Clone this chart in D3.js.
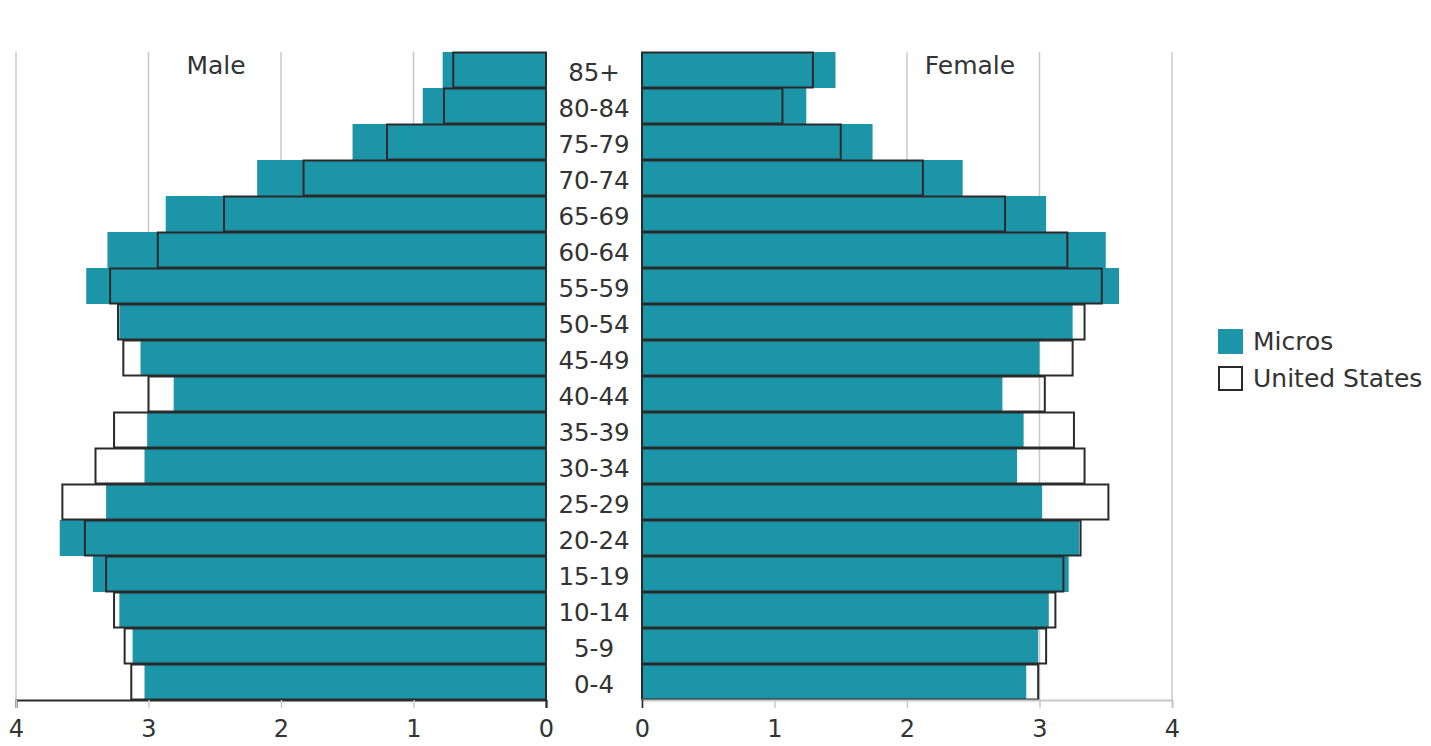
<!DOCTYPE html>
<html>
<head>
<meta charset="utf-8">
<script src="https://cdn.jsdelivr.net/npm/d3@7"></script>
<style>
  body { margin: 0; background: #fff; }
  text { font-family: "DejaVu Sans", sans-serif; fill: #333; }
</style>
</head>
<body>
<div id="pyramid"></div>
<script>
// Population pyramid, Micros vs United States (percent of population)

const ageGroups = ["85+", "80-84", "75-79", "70-74", "65-69", "60-64", "55-59", "50-54", "45-49",
  "40-44", "35-39", "30-34", "25-29", "20-24", "15-19", "10-14", "5-9", "0-4"];

const maleMicros = [0.78, 0.93, 1.46, 2.18, 2.87, 3.31, 3.47, 3.22, 3.06, 2.81, 3.01, 3.03, 3.32, 3.67, 3.42, 3.22, 3.12, 3.03];
const maleUS = [0.70, 0.77, 1.20, 1.83, 2.43, 2.93, 3.29, 3.23, 3.19, 3.00, 3.26, 3.40, 3.65, 3.48, 3.32, 3.26, 3.18, 3.13];

const femaleMicros = [1.46, 1.24, 1.74, 2.42, 3.05, 3.50, 3.60, 3.25, 3.00, 2.72, 2.88, 2.83, 3.02, 3.30, 3.22, 3.07, 2.99, 2.90];
const femaleUS = [1.29, 1.06, 1.50, 2.12, 2.74, 3.21, 3.47, 3.34, 3.25, 3.04, 3.26, 3.34, 3.52, 3.31, 3.18, 3.12, 3.05, 2.99];

const xTicks = [0, 1, 2, 3, 4];
const legendNames = ["Micros", "United States"];

const [w, h] = [1431, 746];
const [plotTop, plotBottom] = [52, 700];
const teal = "#1b95a7";
const outline = "#2a2a2a";
const gridColor = "#c8c8c8";

const svg = d3.select("#pyramid").append("svg")
  .attr("width", w)
  .attr("height", h);

const yScale = d3.scaleBand().domain(ageGroups).range([plotTop, plotBottom]).padding(0);

const xLeft = d3.scaleLinear().domain([0, 4]).range([546, 16]);
const xRight = d3.scaleLinear().domain([0, 4]).range([642, 1172]);

const sides = [
  {scale: xLeft, micros: maleMicros, us: maleUS, title: "Male", titleX: 216, axisColor: outline},
  {scale: xRight, micros: femaleMicros, us: femaleUS, title: "Female", titleX: 970, axisColor: gridColor}
];

sides.forEach(side => {
  const x = side.scale;

  // grid lines
  svg.append("g").selectAll("line")
    .data(xTicks.filter(t => t > 0))
    .enter().append("line")
    .attr("x1", d => x(d)).attr("x2", d => x(d))
    .attr("y1", plotTop).attr("y2", plotBottom)
    .attr("stroke", gridColor)
    .attr("stroke-width", 1.5);

  svg.append("text")
    .attr("x", side.titleX)
    .attr("y", 74)
    .attr("text-anchor", "middle")
    .style("font-size", "25px")
    .text(side.title);

  // Micros bars
  svg.append("g").selectAll("rect")
    .data(ageGroups)
    .enter().append("rect")
    .attr("x", (d, i) => Math.min(x(0), x(side.micros[i])))
    .attr("y", d => yScale(d))
    .attr("width", (d, i) => Math.abs(x(side.micros[i]) - x(0)))
    .attr("height", yScale.bandwidth())
    .attr("fill", teal);

  // United States outlines
  svg.append("g").selectAll("rect")
    .data(ageGroups)
    .enter().append("rect")
    .attr("x", (d, i) => Math.min(x(0), x(side.us[i])))
    .attr("y", d => yScale(d) + 0.5)
    .attr("width", (d, i) => Math.abs(x(side.us[i]) - x(0)))
    .attr("height", yScale.bandwidth() - 1)
    .attr("fill", "none")
    .attr("stroke", outline)
    .attr("stroke-width", 2);

  const axis = d3.axisBottom(x).tickValues(xTicks).tickSize(8).tickPadding(12).tickFormat(d3.format("d"));
  const g = svg.append("g")
    .attr("transform", `translate(0,${plotBottom})`)
    .call(axis);
  g.select(".domain").attr("stroke", side.axisColor).attr("stroke-width", 2);
  g.selectAll(".tick line")
    .attr("stroke", d => d === 0 ? outline : gridColor)
    .attr("stroke-width", 1.5);
  g.selectAll(".tick text")
    .style("font-size", "24px")
    .attr("fill", "#333");
});

// age labels
svg.append("g").selectAll("text")
  .data(ageGroups)
  .enter().append("text")
  .attr("x", 594)
  .attr("y", d => yScale(d) + yScale.bandwidth() / 2 + 10.5)
  .attr("text-anchor", "middle")
  .style("font-size", "24.5px")
  .text(d => d);

// legend
const legend = svg.append("g").attr("transform", "translate(1218,329)");
legendNames.forEach((name, i) => {
  const item = legend.append("g").attr("transform", `translate(0,${i * 37})`);
  item.append("rect")
    .attr("x", i ? 1 : 0).attr("y", i ? 1 : 0)
    .attr("width", i ? 23 : 25).attr("height", i ? 23 : 25)
    .attr("fill", i ? "#fff" : teal)
    .attr("stroke", i ? outline : "none")
    .attr("stroke-width", 2);
  item.append("text")
    .attr("x", 35)
    .attr("y", 21)
    .style("font-size", "25px")
    .text(name);
});
</script>
</body>
</html>
